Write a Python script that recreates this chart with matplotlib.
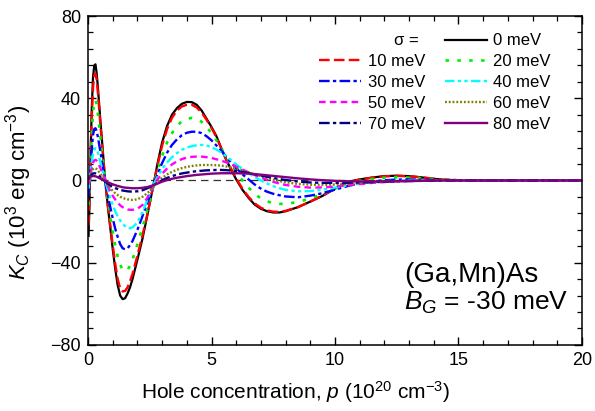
import matplotlib
matplotlib.use("Agg")
import matplotlib.pyplot as plt
from matplotlib.lines import Line2D

plt.rcParams['font.family'] = ['Liberation Sans', 'DejaVu Sans']
plt.rcParams['mathtext.fontset'] = 'custom'
plt.rcParams['mathtext.rm'] = 'Liberation Sans'
plt.rcParams['mathtext.it'] = 'Liberation Sans:italic'
plt.rcParams['mathtext.bf'] = 'Liberation Sans:bold'

# Hole concentration (10^20 cm^-3)
p = [0.02, 0.05, 0.1, 0.15, 0.2, 0.25, 0.3, 0.35, 0.4,
     0.5, 0.6, 0.7, 0.8, 0.9, 1.0, 1.1, 1.2, 1.3, 1.4, 1.5, 1.6, 1.7, 1.8,
     2.0, 2.2, 2.4, 2.5, 2.6, 2.7, 2.8,
     3.0, 3.2, 3.4, 3.6, 3.8, 4.0, 4.2, 4.4, 4.6, 4.8, 5.0, 5.2, 5.4, 5.6, 5.8, 6.0,
     6.25, 6.5, 6.75, 7.0, 7.25, 7.5, 7.75, 8.0,
     8.5, 9.0, 9.5, 10.0, 10.5, 11.0, 11.5, 12.0, 12.5, 13.0, 13.5, 14.0, 14.5, 15.0,
     16, 17, 18, 19, 20]

k0 = [-27, -15, 12, 35, 50, 56, 56.5, 52, 45,
      29, 14, -1, -12.5, -23, -33.5, -43, -51, -56, -57.8, -57.3, -55, -52, -48,
      -38.5, -28.5, -17, -11, -5, 1, 7.5,
      18.5, 26.5, 32, 35.2, 37.3, 38.2, 38.1, 36.8, 34, 30, 26, 21.5, 15.5, 10, 5, 0.5,
      -4.5, -8.5, -11.8, -13.8, -15, -15.6, -15.6, -15,
      -13, -10.3, -7.5, -4, -0.8, 0.5, 1.4, 2.1, 2.3, 2.1, 1.5, 0.8, 0.3, 0.1,
      0, 0, 0, 0, 0]
k10 = [-22, -12, 10, 31, 45, 51, 52, 49, 42.5,
       27, 12.5, -1, -12, -22, -31.5, -40.5, -48, -52.5, -54, -53.8, -52, -49, -45.5,
       -36.5, -27, -16.5, -10.8, -5, 0.7, 6.5,
       17, 25, 30.5, 34, 36, 36.8, 36.8, 35.5, 33, 29.5, 25.5, 21, 15.5, 10, 5.5, 1,
       -4, -8, -11.2, -13.3, -14.6, -15.2, -15.3, -14.8,
       -13, -10.3, -7.3, -4, -1, 0.4, 1.3, 2.0, 2.2, 2.0, 1.5, 0.8, 0.4, 0.1,
       0, 0, 0, 0, 0]
k20 = [-12, -6, 8, 22, 33, 38.5, 39.2, 37, 32,
       21, 10, 0, -9, -17.5, -25, -31.5, -37, -41, -43.5, -44.2, -43.5, -41.5, -38.5,
       -31, -23, -14.5, -10, -5, -0.5, 4,
       12, 18.5, 23, 26.5, 28.8, 30, 30.4, 30, 28.5, 26, 23, 19.5, 15.5, 11.5, 7.5, 4,
       0, -3.5, -6.5, -8.8, -10.2, -11, -11.4, -11.4,
       -10.5, -8.8, -6.5, -4, -1.8, -0.3, 0.7, 1.3, 1.5, 1.4, 1.0, 0.6, 0.3, 0.1,
       0, 0, 0, 0, 0]
k30 = [-8, -3, 6, 15, 22, 25, 25.4, 24, 21,
       14, 6.5, -0.5, -7, -13, -18.5, -23.5, -27.5, -31, -33, -33.5, -33, -31.5, -29.5,
       -24, -17.5, -11, -7.5, -4, -0.8, 2.5,
       8.5, 13.5, 17.3, 20, 22, 23.2, 23.7, 23.7, 23, 21.5, 19.5, 17, 14.5, 11.5, 8.5, 6,
       3, 0.5, -2, -4, -5.5, -6.5, -7.2, -7.8,
       -8.2, -7.4, -6.2, -4.5, -2.8, -1.4, -0.5, 0.1, 0.4, 0.5, 0.4, 0.2, 0.1, 0,
       0, 0, 0, 0, 0]
k40 = [-4, -1, 4, 9, 13, 15, 15.7, 15, 13.5,
       9, 4, -0.5, -4.5, -8.5, -12, -15, -17.5, -19.5, -21, -22.3, -23, -23.3, -22.8,
       -20.5, -15.5, -9.5, -6.5, -3.5, -0.8, 1.5,
       5.5, 8.7, 11.3, 13.3, 14.9, 16, 16.7, 17.1, 17.3, 17, 16.2, 15, 13.5, 11.7, 9.8, 7.8,
       5.6, 3.5, 1.6, 0, -1.5, -2.8, -3.8, -4.6,
       -5.3, -5.2, -4.5, -3.5, -2.5, -1.6, -0.9, -0.4, -0.1, 0, 0, 0, 0, 0,
       0, 0, 0, 0, 0]
k50 = [-2, 0, 3, 6, 8.5, 9.7, 10, 9.6, 8.7,
       6, 3, 0, -2.8, -5.3, -7.5, -9.3, -10.9, -12.1, -13, -13.7, -14.1, -14.3, -14.3,
       -13.8, -12, -8.5, -6, -3.5, -1.5, 0.3,
       3.3, 5.8, 7.8, 9.3, 10.4, 11.1, 11.5, 11.6, 11.6, 11.3, 10.9, 10.3, 9.6, 8.8, 7.8, 6.7,
       5.3, 3.9, 2.6, 1.4, 0.3, -0.7, -1.5, -2.2,
       -3.1, -3.5, -3.4, -3.0, -2.4, -1.8, -1.2, -0.8, -0.4, -0.2, -0.1, 0, 0, 0,
       0, 0, 0, 0, 0]
k60 = [0, 1.5, 3.2, 4.6, 5.5, 5.9, 5.9, 5.5, 4.8,
       3.2, 1.3, -0.5, -2.2, -3.8, -5.1, -6.2, -7.1, -7.9, -8.5, -8.9, -9.2, -9.4, -9.5,
       -9.2, -8, -6.2, -5, -3.6, -2.3, -1,
       1.2, 2.9, 4.2, 5.2, 6, 6.6, 7, 7.3, 7.5, 7.5, 7.5, 7.4, 7.2, 6.8, 6.3, 5.8,
       4.9, 4, 3, 2.1, 1.2, 0.4, -0.3, -0.9,
       -1.7, -2.1, -2.2, -2, -1.7, -1.3, -1.0, -0.7, -0.4, -0.2, -0.1, 0, 0, 0,
       0, 0, 0, 0, 0]
k70 = [0.5, 1.3, 2.2, 2.9, 3.3, 3.5, 3.4, 3.1, 2.6,
       1.6, 0.5, -0.6, -1.6, -2.4, -3.1, -3.7, -4.2, -4.6, -4.9, -5.1, -5.3, -5.4, -5.4,
       -5.3, -4.8, -3.8, -3.3, -2.7, -2, -1.3,
       0.1, 1.2, 2.1, 2.8, 3.4, 3.8, 4.2, 4.5, 4.7, 4.9, 5, 5.1, 5.1, 5, 4.8, 4.6,
       4.1, 3.6, 3, 2.4, 1.8, 1.2, 0.7, 0.2,
       -0.5, -1.0, -1.2, -1.2, -1.1, -1.0, -0.8, -0.6, -0.4, -0.3, -0.2, -0.1, 0, 0,
       0, 0, 0, 0, 0]
k80 = [1, 1.4, 1.8, 2.0, 2.1, 2.1, 2.0, 1.8, 1.5,
       0.9, 0.3, -0.3, -0.9, -1.4, -1.9, -2.3, -2.7, -3.0, -3.3, -3.5, -3.6, -3.7, -3.8,
       -3.8, -3.6, -3.2, -2.9, -2.5, -2.1, -1.6,
       -0.6, 0.2, 0.8, 1.3, 1.7, 2.1, 2.4, 2.7, 2.9, 3.1, 3.3, 3.4, 3.5, 3.5, 3.5, 3.5,
       3.4, 3.3, 3.1, 2.8, 2.5, 2.2, 1.9, 1.6,
       1.0, 0.5, 0.1, -0.2, -0.4, -0.5, -0.5, -0.5, -0.4, -0.3, -0.2, -0.1, 0, 0,
       0, 0, 0, 0, 0]

sigma_labels = ['0 meV', '10 meV', '20 meV', '30 meV', '40 meV',
                '50 meV', '60 meV', '70 meV', '80 meV']
series = [k0, k10, k20, k30, k40, k50, k60, k70, k80]

colors = ['black', '#ff0000', '#00ee00', '#0000ff', '#00ffff',
          '#ff00ff', '#808000', '#000080', '#800080']
styles = ['-', (0, (4.5, 1.8)), (0, (1.3, 3.2)), (0, (4.5, 1.4, 1.4, 1.4)),
          (0, (4, 1.4, 1.4, 1.4, 1.4, 1.4)), (0, (2.8, 1.8)), (0, (0.8, 0.8)),
          (0, (4.5, 1.4, 1.4, 1.4)), '-']
widths = [1.6, 1.7, 1.9, 1.7, 1.7, 1.7, 1.7, 1.7, 1.7]

fig = plt.figure(figsize=(5.95, 4.11), dpi=100)
ax = fig.add_axes([0.148, 0.161, 0.830, 0.800])

ax.plot([0, 20], [0, 0], color='#333333', lw=0.9, ls=(0, (6, 4)), zorder=1)

lines = []
for y, lab, c, s, w in zip(series, sigma_labels, colors, styles, widths):
    ln, = ax.plot(p, y, color=c, ls=s, lw=w, label=lab, zorder=2)
    lines.append(ln)

ax.set_xlim(0, 20)
ax.set_ylim(-80, 80)
ax.set_xticks([0, 5, 10, 15, 20])
ax.set_xticks(range(0, 21), minor=True)
ax.set_yticks([-80, -40, 0, 40, 80])
ax.set_yticks(range(-80, 81, 8), minor=True)
ax.tick_params(which='both', direction='in', top=True, right=True, labelsize=13, pad=5)
ax.tick_params(which='major', length=6, width=1.0)
ax.tick_params(which='minor', length=3.5, width=0.9)
for sp in ax.spines.values():
    sp.set_linewidth(1.1)

ax.set_xlabel('Hole concentration, $p$ (10$^{20}$ cm$^{-3}$)', fontsize=15)
ax.xaxis.set_label_coords(0.419, -0.105)
ax.set_ylabel('$K_C$ (10$^3$ erg cm$^{-3}$)', fontsize=16)
ax.yaxis.set_label_coords(-0.11, 0.465)

blank = Line2D([], [], color='none')
handles = [blank, lines[1], lines[3], lines[5], lines[7],
           lines[0], lines[2], lines[4], lines[6], lines[8]]
labels = [' ', '10 meV', '30 meV', '50 meV', '70 meV',
          '0 meV', '20 meV', '40 meV', '60 meV', '80 meV']
ax.legend(handles, labels, ncol=2, loc='upper left', bbox_to_anchor=(0.468, 0.947),
          frameon=False, fontsize=12, handlelength=2.5, handletextpad=0.4,
          columnspacing=1.2, labelspacing=0.35, borderpad=0, borderaxespad=0)
ax.text(0.670, 0.925, 'σ =', transform=ax.transAxes, ha='right', va='center', fontsize=12)

ax.text(0.640, 0.191, '(Ga,Mn)As', transform=ax.transAxes, fontsize=20, ha='left', va='baseline')
ax.text(0.640, 0.106, '$B_G$ = -30 meV', transform=ax.transAxes, fontsize=19, ha='left', va='baseline')

fig.savefig('out.png', dpi=100)
